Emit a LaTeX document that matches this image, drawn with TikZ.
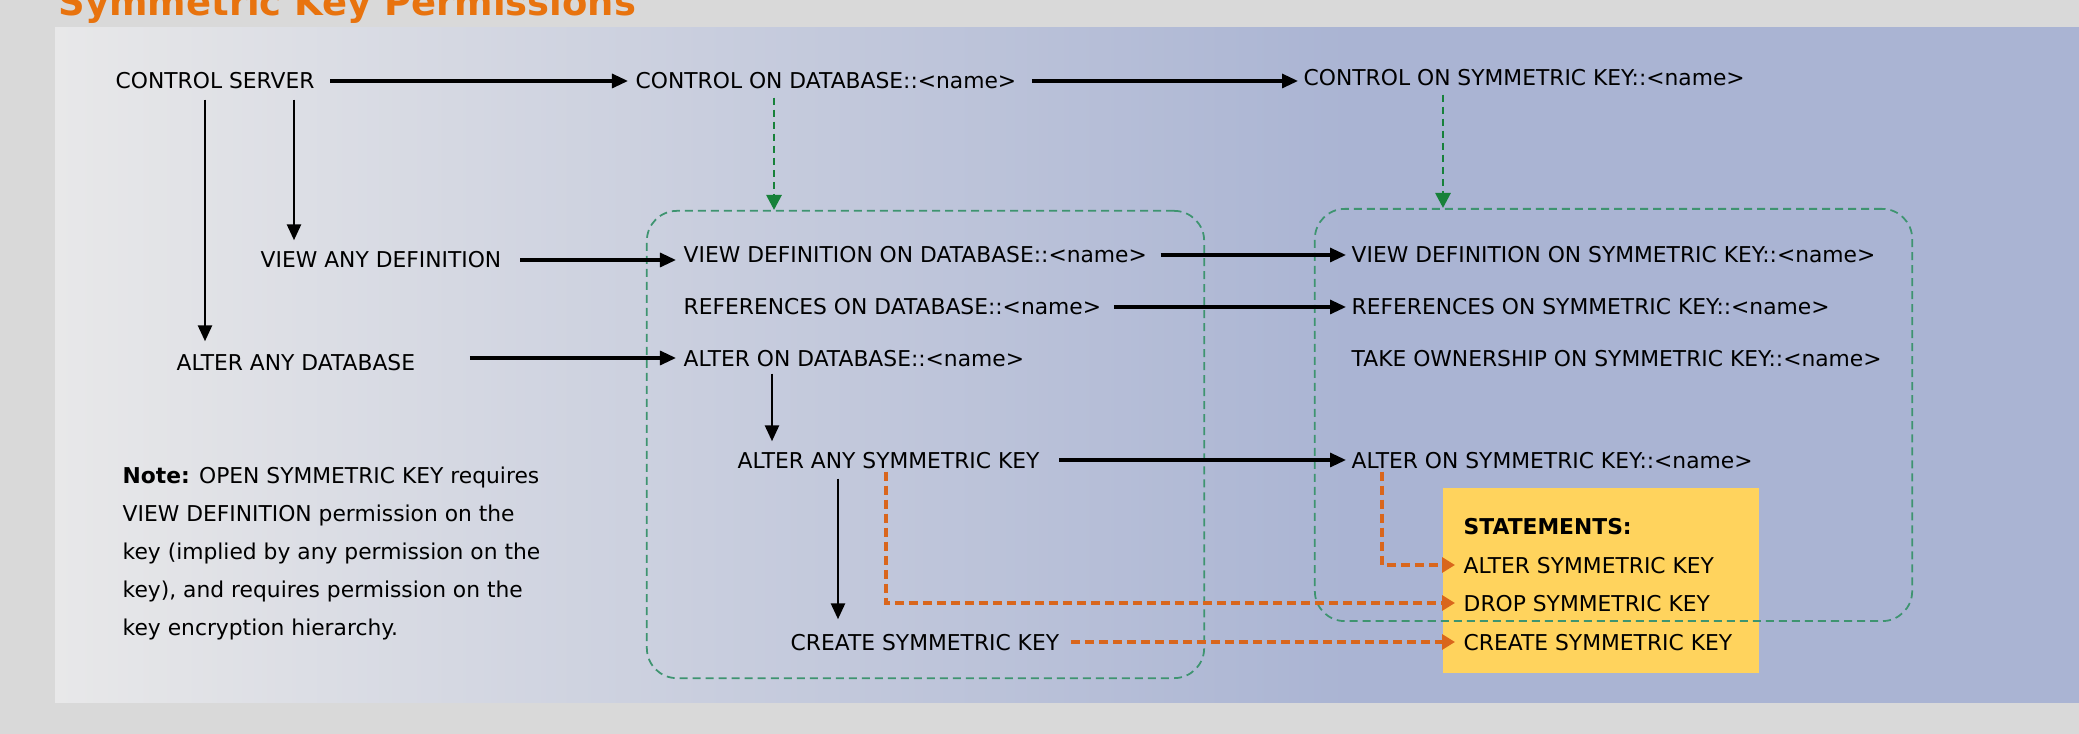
\documentclass[tikz,border=0pt]{standalone}
\usepackage{fontspec}
\setmainfont{DejaVu Sans}
\usepackage{tikz}
\usetikzlibrary{arrows.meta, positioning, calc}

\definecolor{pageGray}{HTML}{D9D9D9}
\definecolor{panelLeft}{HTML}{E8E8E9}
\definecolor{panelRight}{HTML}{AAB4D3}
\definecolor{stmtYellow}{HTML}{FFD35D}
\definecolor{stmtOrange}{HTML}{D9661C}
\definecolor{grpGreen}{HTML}{3E9470}
\definecolor{ctlGreen}{HTML}{17813A}
\definecolor{titleOrange}{HTML}{E8730E}

\pgfdeclarehorizontalshading{panelShade}{100bp}{color(0bp)=(panelLeft); color(25bp)=(panelLeft); color(57bp)=(panelRight); color(100bp)=(panelRight)}

\begin{document}
\begin{tikzpicture}[x=0.01cm, y=-0.01cm,
  perm/.style={anchor=west, inner sep=0pt, text height=0.16cm, text depth=0pt, font=\fontsize{6.2}{7.4}\selectfont},
  arr/.style={-{Triangle[length=0.16cm, width=0.14cm]}, line width=0.9pt, shorten <=0.15cm, shorten >=0.07cm},
  vert/.style={arr, line width=0.75pt, shorten <=0.1cm, shorten >=0.12cm},
  grpbox/.style={draw=grpGreen, dash pattern=on 0.08cm off 0.05cm, line width=0.5pt, rounded corners=0.3cm, inner sep=0pt},
  ctlarr/.style={draw=ctlGreen, line width=0.8pt, dash pattern=on 0.07cm off 0.05cm, -{Triangle[length=0.15cm, width=0.15cm]}, shorten <=0.08cm},
  stmtarr/.style={draw=stmtOrange, line width=0.95pt, dash pattern=on 0.09cm off 0.05cm, -{Triangle[length=0.13cm, width=0.15cm]}, shorten >=0.08cm}
]
  \useasboundingbox (0,0) rectangle (2079,734);

  % Background
  \fill[pageGray] (0,0) rectangle (2079,734);
  \shade[shading=panelShade] (55,28) rectangle (2079,702);

  % Title (cut off at the top)
  \node[anchor=base west, inner sep=0pt, text=titleOrange, font=\fontsize{10.5}{12}\selectfont\bfseries] (title) at (58,16) {Symmetric Key Permissions};

  % Statements box
  \node[fill=stmtYellow, minimum width=3.16cm, minimum height=1.85cm, inner sep=0pt] (stbox) at (1601,580.5) {};

  % Groups
  \node[grpbox, minimum width=5.57cm, minimum height=4.67cm] (dbgrp) at (925.5,444.5) {};
  \node[grpbox, minimum width=5.97cm, minimum height=4.12cm] (skgrp) at (1613.5,415) {};

  % Permissions
  \node[perm] (cs)   at (115,81)   {CONTROL SERVER};
  \node[perm] (cdb)  at (635,81)   {CONTROL ON DATABASE::<name>};
  \node[perm] (csk)  at (1303,78)  {CONTROL ON SYMMETRIC KEY::<name>};
  \node[perm] (vad)  at (260,260)  {VIEW ANY DEFINITION};
  \node[perm] (vdb)  at (683,255)  {VIEW DEFINITION ON DATABASE::<name>};
  \node[perm] (vsk)  at (1351,255) {VIEW DEFINITION ON SYMMETRIC KEY::<name>};
  \node[perm] (rdb)  at (683,307)  {REFERENCES ON DATABASE::<name>};
  \node[perm] (rsk)  at (1351,307) {REFERENCES ON SYMMETRIC KEY::<name>};
  \node[perm] (aad)  at (176,362)  {ALTER ANY DATABASE};
  \node[perm] (adb)  at (683,358)  {ALTER ON DATABASE::<name>};
  \node[perm] (tsk)  at (1351,358) {TAKE OWNERSHIP ON SYMMETRIC KEY::<name>};
  \node[perm] (aask) at (737,460)  {ALTER ANY SYMMETRIC KEY};
  \node[perm] (ask)  at (1351,460) {ALTER ON SYMMETRIC KEY::<name>};
  \node[perm] (crsk) at (790,642)  {CREATE SYMMETRIC KEY};

  % Statements
  \node[perm, font=\fontsize{6.2}{7.4}\selectfont\bfseries] (sthead) at (1463,526) {STATEMENTS:};
  \node[perm] (stAlter)  at (1463,565) {ALTER SYMMETRIC KEY};
  \node[perm] (stDrop)   at (1463,603) {DROP SYMMETRIC KEY};
  \node[perm] (stCreate) at (1463,642) {CREATE SYMMETRIC KEY};

  % Note
  \node[anchor=north west, inner sep=0pt, align=left, font=\fontsize{6.2}{10.8}\selectfont] (note) at (122,466)
    {\textbf{Note:} OPEN SYMMETRIC KEY requires\\VIEW DEFINITION permission on the\\key (implied by any permission on the\\key), and requires permission on the\\key encryption hierarchy.};

  % Arrows
  \draw[arr] (cs.east) -- (cdb.west);
  \draw[arr, shorten >=0.05cm] (cdb.east) -- (cdb.east -| csk.west);
  \draw[arr, shorten <=0.18cm] (vad.east) -- (vad.east -| vdb.west);
  \draw[arr, shorten <=0.54cm] (aad.east |- adb.west) -- (adb.west);
  \draw[arr, shorten <=0.13cm, shorten >=0.05cm] (vdb.east) -- (vsk.west);
  \draw[arr, shorten <=0.12cm, shorten >=0.05cm] (rdb.east) -- (rsk.west);
  \draw[arr, shorten <=0.19cm, shorten >=0.05cm] (aask.east) -- (ask.west);

  \coordinate (csA) at ($(cs.south west)+(90,0)$);
  \coordinate (csV) at ($(cs.south west)+(179,0)$);
  \draw[vert] (csA) -- (csA |- aad.north);
  \draw[vert, shorten >=0.11cm] (csV) -- (csV |- vad.north);
  \coordinate (adbD) at ($(adb.south west)+(89,0)$);
  \draw[vert, shorten <=0.07cm, shorten >=0.1cm] (adbD) -- (adbD |- aask.north);
  \coordinate (aaskD) at ($(aask.south west)+(101,0)$);
  \draw[vert, shorten >=0.14cm] (aaskD) -- (aaskD |- crsk.north);

  % Control reaches the groups
  \coordinate (cdbD) at ($(cdb.south west)+(139,0)$);
  \draw[ctlarr] (cdbD) -- (cdbD |- dbgrp.north);
  \coordinate (cskD) at ($(csk.south west)+(140,0)$);
  \draw[ctlarr] (cskD) -- (cskD |- skgrp.north);

  % Statements arrows
  \coordinate (askD) at ($(ask.south west)+(31,0)$);
  \draw[stmtarr, shorten <=0.03cm] (askD) |- (stAlter.west);
  \coordinate (aaskO) at ($(aask.south west)+(149,0)$);
  \draw[stmtarr, shorten <=0.03cm] (aaskO) |- (stDrop.west);
  \draw[stmtarr, shorten <=0.11cm] (crsk.east) -- (stCreate.west);
\end{tikzpicture}
\end{document}
